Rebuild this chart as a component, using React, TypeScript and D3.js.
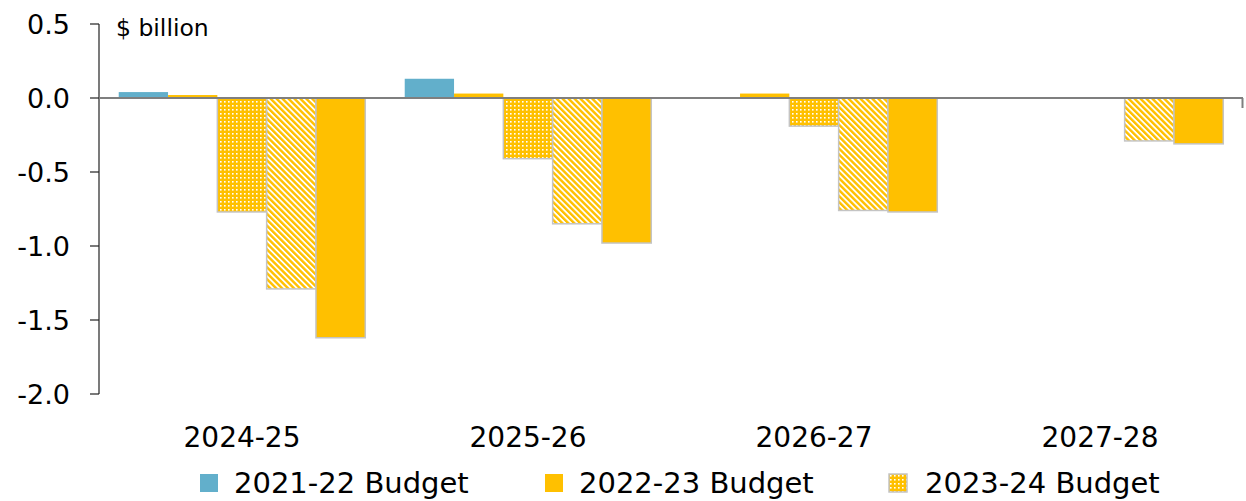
import React from "react";
import * as d3 from "d3";

const categories = ["2024-25", "2025-26", "2026-27", "2027-28"];
const seriesKeys = ["b2122", "b2223", "b2324", "m2324", "b2425"];
const budget2122: (number | null)[] = [0.04, 0.13, null, null];
const budget2223: (number | null)[] = [0.02, 0.03, 0.03, null];
const budget2324: (number | null)[] = [-0.77, -0.41, -0.19, null];
const myefo2324: (number | null)[] = [-1.29, -0.85, -0.76, -0.29];
const budget2425: (number | null)[] = [-1.62, -0.98, -0.77, -0.31];
const yTicks = [0.5, 0.0, -0.5, -1.0, -1.5, -2.0];
const legendLabels = ["2021-22 Budget", "2022-23 Budget", "2023-24 Budget"];

const W = 1246;
const H = 501;
const FONT = "'Century Gothic', 'URW Gothic', 'DejaVu Sans', sans-serif";
const YELLOW = "#FFC000";
const BLUE = "#62AFCB";
const EDGE = "#C4C4C4";

const seriesValues = [budget2122, budget2223, budget2324, myefo2324, budget2425];
const fills = [BLUE, YELLOW, "url(#dots)", "url(#hatch)", YELLOW];
const strokes = ["none", "none", EDGE, EDGE, EDGE];

export default function App() {
  const x = d3.scaleBand<string>().domain(categories).range([99, 1243]).padding(0);
  const xi = d3
    .scaleBand<string>()
    .domain(seriesKeys)
    .range([0, x.bandwidth()])
    .paddingInner(0)
    .paddingOuter(0.4);
  const y = d3.scaleLinear().domain([-2, 0.5]).range([394, 24]);
  const y0 = y(0);

  const legendX = [200, 545, 889];

  return (
    <svg
      width={W}
      height={H}
      style={{ position: "absolute", left: 0, top: 0, background: "#fff" }}
      fontFamily={FONT}
    >
      <defs>
        <pattern id="dots" width={4} height={4} patternUnits="userSpaceOnUse">
          <rect width={4} height={4} fill={YELLOW} />
          <rect x={1} y={1} width={1.6} height={1.6} fill="#fff" />
        </pattern>
        <pattern
          id="hatch"
          width={4.2}
          height={4.2}
          patternUnits="userSpaceOnUse"
          patternTransform="rotate(-45)"
        >
          <rect width={4.2} height={4.2} fill="#fff" />
          <rect width={2.4} height={4.2} fill={YELLOW} />
        </pattern>
      </defs>

      {/* bars */}
      {categories.map((c, ci) => (
        <g key={c} transform={`translate(${x(c)},0)`}>
          {seriesKeys.map((k, si) => {
            const v = seriesValues[si][ci];
            if (v === null || v === undefined) return null;
            const yt = y(Math.max(0, v));
            const yb = y(Math.min(0, v));
            return (
              <rect
                key={k}
                x={xi(k)}
                y={yt}
                width={xi.bandwidth()}
                height={yb - yt}
                fill={fills[si]}
                stroke={strokes[si]}
                strokeWidth={1.5}
              />
            );
          })}
        </g>
      ))}

      {/* y axis */}
      <line x1={99} x2={99} y1={y(0.5)} y2={y(-2)} stroke="#222" strokeWidth={1.2} />
      {yTicks.map((t) => (
        <g key={t}>
          <line x1={90} x2={99} y1={y(t)} y2={y(t)} stroke="#222" strokeWidth={1.2} />
          <text x={70} y={y(t)} dy="0.36em" textAnchor="end" fontSize={27} fill="#000">
            {t.toFixed(1)}
          </text>
        </g>
      ))}

      {/* zero line */}
      <line x1={99} x2={1243} y1={y0} y2={y0} stroke="#7F7F7F" strokeWidth={2} />
      <line x1={1242.5} x2={1242.5} y1={y0} y2={y0 + 10} stroke="#7F7F7F" strokeWidth={2} />

      <text x={116} y={28} dy="0.36em" fontSize={23.5} fill="#000">
        $ billion
      </text>

      {/* category labels */}
      {categories.map((c) => (
        <text
          key={c}
          x={(x(c) as number) + x.bandwidth() / 2}
          y={437}
          dy="0.36em"
          textAnchor="middle"
          fontSize={28}
          fill="#000"
        >
          {c}
        </text>
      ))}

      {/* legend */}
      {legendLabels.map((l, i) => (
        <g key={l} transform={`translate(${legendX[i]},474)`}>
          <rect
            width={18}
            height={18}
            fill={fills[i]}
            stroke={i === 2 ? EDGE : "none"}
            strokeWidth={1.5}
          />
          <text x={i === 2 ? 36 : 34} y={9} dy="0.36em" fontSize={29} fill="#000">
            {l}
          </text>
        </g>
      ))}
    </svg>
  );
}
